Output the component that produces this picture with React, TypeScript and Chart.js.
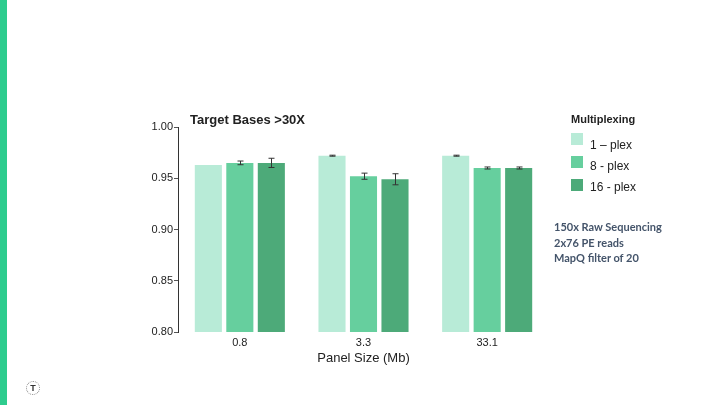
import React, { useEffect, useRef } from "react";
import { Chart, registerables } from "chart.js";

Chart.register(...registerables);

const categories = ["0.8", "3.3", "33.1"];
const seriesNames = ["1 – plex", "8 - plex", "16 - plex"];
const plex1 = [0.963, 0.972, 0.972];
const plex8 = [0.965, 0.952, 0.960];
const plex16 = [0.965, 0.949, 0.960];
const err1 = [0.0, 0.0005, 0.0005];
const err8 = [0.0018, 0.003, 0.001];
const err16 = [0.0045, 0.0054, 0.001];
const yTicks = [0.8, 0.85, 0.9, 0.95, 1.0];
const colors = ["#B8EBD7", "#66CF9E", "#4DAA79"];
const notes = ["150x Raw Sequencing", "2x76 PE reads", "MapQ filter of 20"];

const errorBarPlugin = {
  id: "errorBars",
  afterDatasetsDraw(chart: any) {
    const ctx = chart.ctx;
    const y = chart.scales.y;
    ctx.save();
    ctx.strokeStyle = "#333";
    ctx.lineWidth = 1;
    chart.data.datasets.forEach((ds: any, di: number) => {
      const meta = chart.getDatasetMeta(di);
      meta.data.forEach((bar: any, i: number) => {
        const v = ds.data[i];
        const e = ds.errors[i];
        if (!e) return;
        const top = y.getPixelForValue(v + e);
        const bot = y.getPixelForValue(v - e);
        const x = Math.round(bar.x) + 0.5;
        ctx.beginPath();
        ctx.moveTo(x, top);
        ctx.lineTo(x, bot);
        ctx.moveTo(x - 3, top);
        ctx.lineTo(x + 3, top);
        ctx.moveTo(x - 3, bot);
        ctx.lineTo(x + 3, bot);
        ctx.stroke();
      });
    });
    ctx.restore();
  },
};

export default function App() {
  const ref = useRef<HTMLCanvasElement>(null);
  useEffect(() => {
    if (!ref.current) return;
    const values = [plex1, plex8, plex16];
    const errs = [err1, err8, err16];
    const chart = new Chart(ref.current, {
      type: "bar",
      data: {
        labels: categories,
        datasets: seriesNames.map((n, i) => ({
          label: n,
          data: values[i],
          errors: errs[i],
          backgroundColor: colors[i],
          borderWidth: 0,
          categoryPercentage: 0.764,
          barPercentage: 0.86,
        })) as any,
      },
      options: {
        responsive: false,
        animation: false,
        layout: { padding: { left: 130, right: 171, top: 127, bottom: 37 } },
        plugins: { legend: { display: false }, tooltip: { enabled: false }, title: { display: false } },
        scales: {
          x: {
            grid: { display: false, drawTicks: false },
            border: { display: false },
            ticks: { color: "#222", font: { family: "Liberation Sans", size: 11 }, padding: 4 },
            title: {
              display: true,
              text: "Panel Size (Mb)",
              color: "#222",
              font: { family: "Liberation Sans", size: 13 },
              padding: { top: 0, bottom: 2 },
            },
            afterFit(s: any) { s.height = 36; },
          },
          y: {
            min: 0.8,
            max: 1.0,
            afterBuildTicks(s: any) { s.ticks = yTicks.map((v) => ({ value: v })); },
            grid: { drawOnChartArea: false, drawTicks: true, tickLength: 4, color: "#555" },
            border: { display: true, color: "#333", width: 1 },
            ticks: {
              color: "#222",
              font: { family: "Liberation Sans", size: 11 },
              padding: 1,
              callback: (v: any) => Number(v).toFixed(2),
            },
            afterFit(s: any) { s.width = 48; },
          },
        },
      },
      plugins: [errorBarPlugin],
    } as any);
    return () => chart.destroy();
  }, []);

  return (
    <div style={{ position: "fixed", left: 0, top: 0, width: 720, height: 405, background: "#fff", overflow: "hidden" }}>
      <div style={{ position: "absolute", left: 0, top: 0, width: 7, height: 405, background: "#2ECC8E" }} />
      <canvas ref={ref} width={720} height={405} style={{ position: "absolute", left: 0, top: 0 }} />
      <div style={{ position: "absolute", left: 190, top: 112, fontFamily: "Liberation Sans", fontWeight: "bold", fontSize: 13, color: "#222" }}>
        Target Bases &gt;30X
      </div>
      <div style={{ position: "absolute", left: 571, top: 113, fontFamily: "Liberation Sans", fontWeight: "bold", fontSize: 11, color: "#222" }}>
        Multiplexing
      </div>
      {seriesNames.map((n, i) => (
        <div key={n} style={{ position: "absolute", left: 571, top: 133 + i * 23, width: 12, height: 12, background: colors[i] }} />
      ))}
      {seriesNames.map((n, i) => (
        <div key={n + "t"} style={{ position: "absolute", left: 590, top: 137 + i * 21, fontFamily: "Liberation Sans", fontSize: 12, color: "#222", lineHeight: "16px" }}>{n}</div>
      ))}
      {notes.map((t, i) => (
        <div key={t} style={{ position: "absolute", left: 554, top: 220 + i * 15.5, fontFamily: "Lato", fontWeight: "bold", fontSize: 11, color: "#44546A" }}>
          {t}
        </div>
      ))}
      <div style={{ position: "absolute", left: 26, top: 381, width: 12, height: 12, borderRadius: "50%", border: "1px dotted #888", fontFamily: "Liberation Sans", fontWeight: "bold", fontSize: 9, color: "#333", textAlign: "center", lineHeight: "12px" }}>
        T
      </div>
    </div>
  );
}
